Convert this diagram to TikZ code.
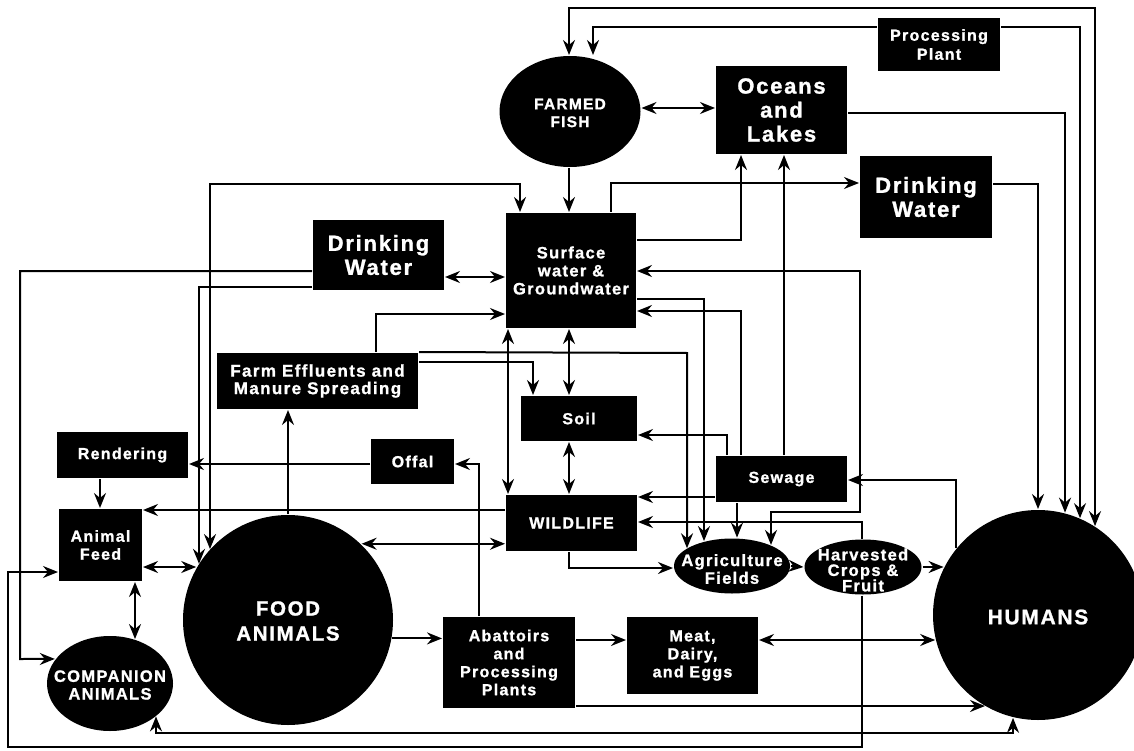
\documentclass[tikz,border=0pt]{standalone}
\usepackage{fontspec}
\newfontfamily\lblfont{Liberation Sans}[LetterSpace=8,FakeBold=1.2]
\newcommand\lblsz[2]{\lblfont\bfseries\fontsize{#1}{#2}\selectfont}
\usetikzlibrary{arrows.meta,shapes.geometric}
\begin{document}
\begin{tikzpicture}[x=1pt,y=-1pt,line width=2pt,
  >={Stealth[length=15pt,width=12pt,inset=5pt]},
  box/.style={rectangle, fill=black, draw=none, inner sep=0pt, text=white, align=center, font=\lblsz{16}{18}},
  oval/.style={ellipse, fill=black, draw=none, inner sep=0pt},
  disc/.style={circle, fill=black, draw=none, inner sep=0pt},
  lbl/.style={inner sep=0pt, text=white, align=center, font=\lblsz{16.5}{17.7}}]
\useasboundingbox (0,0) rectangle (1134,751);
% nodes
\node[box, minimum width=122pt, minimum height=53pt, font=\lblsz{16}{19}] (procp) at (939,44.5) {Processing\\Plant};
\node[oval, minimum width=141pt, minimum height=111pt] (fish) at (570,111.5) {};
\node[lbl, font=\lblsz{15.5}{17.7}] (fishT) at (570,113) {FARMED\\FISH};
\node[box, minimum width=131pt, minimum height=88pt, font=\lblsz{22}{24}] (oceans) at (781.5,110) {Oceans\\and\\Lakes};
\node[box, minimum width=132pt, minimum height=82pt, font=\lblsz{22}{24}] (dwR) at (926,197) {Drinking\\Water};
\node[box, minimum width=130pt, minimum height=115pt, font=\lblsz{16.5}{18}] (surf) at (571,270.5) {Surface\\water \&\\Groundwater};
\node[box, minimum width=131pt, minimum height=70pt, font=\lblsz{22}{24}] (dwL) at (378.5,255) {Drinking\\Water};
\node[box, minimum width=201pt, minimum height=56pt, font=\lblsz{17}{17.5}] (farm) at (317.5,381) {Farm Effluents and\\Manure Spreading};
\node[box, minimum width=116pt, minimum height=45pt] (soil) at (579,418.5) {Soil};
\node[box, minimum width=131pt, minimum height=46pt] (render) at (122.5,455) {Rendering};
\node[box, minimum width=83pt, minimum height=45pt] (offal) at (412.5,461.5) {Offal};
\node[box, minimum width=131pt, minimum height=46pt] (sewage) at (781.5,479) {Sewage};
\node[box, minimum width=83pt, minimum height=72pt] (feed) at (100.5,545) {Animal\\Feed};
\node[box, minimum width=131pt, minimum height=56pt] (wild) at (571.5,523) {WILDLIFE};
\node[oval, minimum width=116pt, minimum height=55pt] (agri) at (732,566) {};
\node[lbl] (agriT) at (732,569) {Agriculture\\Fields};
\node[oval, minimum width=117pt, minimum height=55pt] (harv) at (863,567) {};
\node[lbl, font=\lblsz{16.5}{15.5}] (harvT) at (863,570) {Harvested\\Crops \&\\Fruit};
\node[disc, minimum size=210pt] (food) at (288,620) {};
\node[lbl, font=\lblsz{20.5}{25}] (foodT) at (288,621) {FOOD\\ANIMALS};
\node[disc, minimum size=210pt] (humans) at (1038,615) {};
\node[lbl, font=\lblsz{21}{24}] (humT) at (1038,617) {HUMANS};
\node[box, minimum width=132pt, minimum height=91pt] (abat) at (509,662.5) {Abattoirs\\and\\Processing\\Plants};
\node[box, minimum width=131pt, minimum height=77pt] (meat) at (692.5,655.5) {Meat,\\Dairy,\\and Eggs};
\node[oval, minimum width=126pt, minimum height=95pt] (comp) at (110,683.5) {};
\node[lbl] (compT) at (110,685) {COMPANION\\ANIMALS};
% connectors
\draw[<->] (fish.north -| 569,0) -- (569,8) -- (1095,8) -- (1095,0 |- humans.57);
\draw[->] (procp.west |- 0,27) -- (593,27) -- (fish.north -| 593,0);
\draw[->] (procp.east |- 0,27) -- (1080,27) -- (1080,0 |- humans.66);
\draw[->] (oceans.east |- 0,113) -- (1065,113) -- (1065,0 |- humans.75);
\draw[->] (dwR.east |- 0,184) -- (1038,184) -- (humans.north);
\draw[<->] (fish.east |- 0,108) -- (oceans.west |- 0,108);
\draw[->] (fish.south -| 569,0) -- (surf.north -| 569,0);
\draw[<->] (210,0 |- food.138) -- (210,184) -- (520,184) -- (surf.north -| 520,0);
\draw[->] (dwL.west |- 0,287) -- (199,287) -- (199,0 |- food.148);
\draw[->] (dwL.west |- 0,271) -- (20,271) -- (20,659) -- (comp.156);
\draw[<->] (dwL.east |- 0,277) -- (surf.west |- 0,277);
\draw[->] (farm.north -| 376,0) -- (376,314) -- (surf.west |- 0,314);
\draw[->] (farm.east |- 0,362) -- (533,362) -- (soil.north -| 533,0);
\draw[->] (farm.north east) -- (687,353) -- (687,0 |- agri.159);
\draw[->] (surf.east |- 0,299) -- (704,299) -- (704,0 |- agri.139);
\draw[<->] (surf.east |- 0,271) -- (860,271) -- (860,512) -- (771,512) -- (771,0 |- agri.28);
\draw[->] (surf.east |- 0,240) -- (741,240) -- (oceans.south -| 741,0);
\draw[->] (surf.north -| 611,0) -- (611,183) -- (dwR.west |- 0,183);
\draw[->] (sewage.north -| 784,0) -- (oceans.south -| 784,0);
\draw[->] (sewage.north -| 741,0) -- (741,311) -- (surf.east |- 0,311);
\draw[->] (sewage.north -| 727,0) -- (727,435) -- (soil.east |- 0,435);
\draw[->] (sewage.west |- 0,497) -- (wild.east |- 0,497);
\draw[->] (sewage.south -| 737,0) -- (737,0 |- agri.80);
\draw[->] (956,0 |- humans.141) -- (956,480) -- (sewage.east |- 0,480);
\draw[->] (harv.north -| 862,0) -- (862,522) -- (wild.east |- 0,522);
\draw[->] (harv.south -| 862,0) -- (862,747) -- (8,747) -- (8,572) -- (feed.west |- 0,572);
\draw[->] (agri.east) -- (harv.west);
\draw[->] (harv.east) -- (humans.153 |- harv.east);
\draw[->] (wild.south -| 569,0) -- (569,568) -- (agri.west |- 0,568);
\draw[<->] (surf.south -| 569,0) -- (soil.north -| 569,0);
\draw[<->] (soil.south -| 569,0) -- (wild.north -| 569,0);
\draw[<->] (surf.south -| 508,0) -- (wild.north -| 508,0);
\draw[->] (wild.west |- 0,510) -- (feed.east |- 0,510);
\draw[<->] (food.46) -- (wild.west |- food.46);
\draw[->] (food.north) -- (farm.south -| food.north);
\draw[->] (food.350) -- (abat.west |- food.350);
\draw[->] (abat.north -| 479,0) -- (479,464) -- (offal.east |- 0,464);
\draw[->] (offal.west |- 0,464) -- (render.east |- 0,464);
\draw[->] (render.south -| 100,0) -- (feed.north -| 100,0);
\draw[<->] (feed.east |- food.150) -- (food.150);
\draw[<->] (feed.south -| 135,0) -- (135,0 |- comp.60);
\draw[->] (abat.east |- 0,640) -- (meat.west |- 0,640);
\draw[<->] (meat.east |- 0,640) -- (humans.194 |- 0,640);
\draw[->] (abat.east |- 0,706) -- (humans.240 |- 0,706);
\draw[<->] (156,0 |- comp.325) -- (156,733) -- (1013,733) -- (1013,0 |- humans.256);
\end{tikzpicture}
\end{document}
